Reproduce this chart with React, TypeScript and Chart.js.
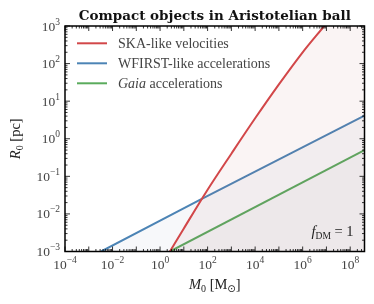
import React, { useEffect, useRef } from "react";
import { Chart, registerables } from "chart.js";

Chart.register(...registerables);

// Axis ranges
const X_MIN = 1e-4;
const X_MAX = 4e8;
const Y_MIN = 1e-3;
const Y_MAX = 1e3;

// Tick exponents
const xMajorExps = [-4, -3, -2, -1, 0, 1, 2, 3, 4, 5, 6, 7, 8];
const xLabelExps = [-4, -2, 0, 2, 4, 6, 8];
const yMajorExps = [-3, -2, -1, 0, 1, 2, 3];
const yLabelExps = [-3, -2, -1, 0, 1, 2, 3];

// Series (M0 in solar masses, R0 in pc)
const skaM = [2.6, 10, 100, 1e3, 1e4, 1e5, 1e6, 8.1e6, 2e7, 1e9];
const skaR = [1e-3, 4.1e-3, 4.4e-2, 0.4, 3.5, 28, 200, 1000, 2000, 2000];
const wfirstM = [3.3e-3, 57, 4e8];
const wfirstR = [1e-3, 0.025, 4.1];
const gaiaM = [2.6, 4e8];
const gaiaR = [1e-3, 0.5];

const seriesLabels = ["SKA-like velocities", "WFIRST-like accelerations", "Gaia accelerations"];

const RED = "#d24749";
const BLUE = "#4c84b5";
const GREEN = "#5aab5c";
const FONT = "'Liberation Serif', 'DejaVu Serif', serif";

type Part = { t: string; f: string; dy?: number };

function drawRich(ctx: CanvasRenderingContext2D, parts: Part[], x: number, y: number, align: "left" | "center" | "right") {
  let total = 0;
  const widths = parts.map((p) => {
    ctx.font = p.f;
    const w = ctx.measureText(p.t).width;
    total += w;
    return w;
  });
  let cx = align === "left" ? x : align === "center" ? x - total / 2 : x - total;
  ctx.textAlign = "left";
  parts.forEach((p, i) => {
    ctx.font = p.f;
    ctx.fillText(p.t, cx, y + (p.dy || 0));
    cx += widths[i];
  });
}

const expStr = (e: number) => (e < 0 ? "\u2212" + Math.abs(e) : String(e));

const decor = {
  id: "decor",
  afterDraw(chart: any) {
    const ctx: CanvasRenderingContext2D = chart.ctx;
    const { left, right, top, bottom } = chart.chartArea;
    const xs = chart.scales.x;
    const ys = chart.scales.y;
    ctx.save();

    // ticks (inward, all four sides)
    ctx.strokeStyle = "#000";
    ctx.lineWidth = 0.8;
    const tick = (x1: number, y1: number, x2: number, y2: number) => {
      ctx.beginPath();
      ctx.moveTo(x1, y1);
      ctx.lineTo(x2, y2);
      ctx.stroke();
    };
    for (const e of xMajorExps) {
      for (let m = 1; m <= 9; m++) {
        const v = m * Math.pow(10, e);
        if (v < X_MIN || v > X_MAX) continue;
        const px = xs.getPixelForValue(v);
        const len = m === 1 ? 5 : 2.5;
        tick(px, bottom, px, bottom - len);
        tick(px, top, px, top + len);
      }
    }
    for (const e of yMajorExps) {
      for (let m = 1; m <= 9; m++) {
        const v = m * Math.pow(10, e);
        if (v < Y_MIN || v > Y_MAX) continue;
        const py = ys.getPixelForValue(v);
        const len = m === 1 ? 5 : 2.5;
        tick(left, py, left + len, py);
        tick(right, py, right - len, py);
      }
    }

    // frame
    ctx.lineWidth = 1.5;
    ctx.strokeRect(left, top, right - left, bottom - top);

    // tick labels
    ctx.fillStyle = "#444";
    ctx.textBaseline = "alphabetic";
    for (const e of xLabelExps) {
      const px = xs.getPixelForValue(Math.pow(10, e));
      drawRich(ctx, [
        { t: "10", f: `13.5px ${FONT}` },
        { t: expStr(e), f: `9.5px ${FONT}`, dy: -6 },
      ], px, bottom + 17, "center");
    }
    for (const e of yLabelExps) {
      const py = ys.getPixelForValue(Math.pow(10, e));
      drawRich(ctx, [
        { t: "10", f: `13.5px ${FONT}` },
        { t: expStr(e), f: `9.5px ${FONT}`, dy: -6 },
      ], left - 5, py + 4.5, "right");
    }

    // title
    ctx.fillStyle = "#111";
    drawRich(ctx, [{ t: "Compact objects in Aristotelian ball", f: `bold 13.5px 'DejaVu Serif', serif` }], (left + right) / 2, 20, "center");

    // axis titles
    ctx.fillStyle = "#222";
    drawRich(ctx, [
      { t: "M", f: `italic 14.5px ${FONT}` },
      { t: "0", f: `10px ${FONT}`, dy: 3 },
      { t: " [M", f: `14.5px ${FONT}` },
      { t: "\u2299", f: `10px 'DejaVu Sans', ${FONT}`, dy: 3 },
      { t: "]", f: `14.5px ${FONT}` },
    ], (left + right) / 2, 289, "center");

    ctx.save();
    ctx.translate(20, (top + bottom) / 2);
    ctx.rotate(-Math.PI / 2);
    drawRich(ctx, [
      { t: "R", f: `italic 14.5px ${FONT}` },
      { t: "0", f: `10px ${FONT}`, dy: 3 },
      { t: " [pc]", f: `14.5px ${FONT}` },
    ], 0, 0, "center");
    ctx.restore();

    // f_DM annotation
    ctx.fillStyle = "#222";
    drawRich(ctx, [
      { t: "f", f: `italic 14.5px ${FONT}` },
      { t: "DM", f: `9.5px ${FONT}`, dy: 3 },
      { t: " = 1", f: `14.5px ${FONT}` },
    ], right - 11, bottom - 16, "right");

    // legend
    const colors = [RED, BLUE, GREEN];
    const rowsY = [43.3, 63.3, 83.3];
    ctx.lineWidth = 2;
    seriesLabels.forEach((lab, i) => {
      const yy = rowsY[i];
      ctx.strokeStyle = colors[i];
      tick(left + 12, yy, left + 42, yy);
      ctx.fillStyle = "#444";
      if (i === 2) {
        drawRich(ctx, [
          { t: "Gaia", f: `italic 14px ${FONT}` },
          { t: " accelerations", f: `14px ${FONT}` },
        ], left + 53, yy + 4.5, "left");
      } else {
        drawRich(ctx, [{ t: lab, f: `14px ${FONT}` }], left + 53, yy + 4.5, "left");
      }
    });

    ctx.restore();
  },
};

export default function App() {
  const ref = useRef<HTMLCanvasElement>(null);
  useEffect(() => {
    document.body.style.margin = "0";
    const toPts = (xs: number[], ys: number[]) => xs.map((x, i) => ({ x, y: ys[i] }));
    const chart = new Chart(ref.current!, {
      type: "line",
      data: {
        datasets: [
          {
            label: seriesLabels[0],
            data: toPts(skaM, skaR),
            borderColor: RED,
            backgroundColor: "rgba(190,100,100,0.07)",
            fill: "start",
            borderWidth: 2,
            pointRadius: 0,
            cubicInterpolationMode: "monotone",
          },
          {
            label: seriesLabels[1],
            data: toPts(wfirstM, wfirstR),
            borderColor: BLUE,
            backgroundColor: "rgba(100,118,155,0.05)",
            fill: "start",
            borderWidth: 2,
            pointRadius: 0,
            tension: 0,
          },
          {
            label: seriesLabels[2],
            data: toPts(gaiaM, gaiaR),
            borderColor: GREEN,
            backgroundColor: "rgba(100,104,100,0.04)",
            fill: "start",
            borderWidth: 2,
            pointRadius: 0,
            tension: 0,
          },
        ],
      },
      options: {
        animation: false,
        responsive: true,
        maintainAspectRatio: false,
        layout: { padding: { left: 65, right: 9.5, top: 26, bottom: 52.5 } },
        plugins: { legend: { display: false }, title: { display: false }, tooltip: { enabled: false } },
        scales: {
          x: { type: "logarithmic", min: X_MIN, max: X_MAX, display: false },
          y: { type: "logarithmic", min: Y_MIN, max: Y_MAX, display: false },
        },
      },
      plugins: [decor],
    });
    return () => chart.destroy();
  }, []);
  return (
    <div style={{ position: "relative", width: 374, height: 304 }}>
      <canvas ref={ref} />
    </div>
  );
}
